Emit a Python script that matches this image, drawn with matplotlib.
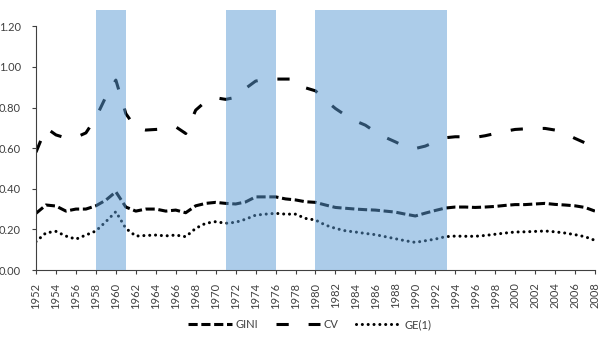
# inequality indices 1952-2008 with shaded periods
import numpy as np
import matplotlib.pyplot as plt

plt.rcParams['font.family'] = ['Lato', 'DejaVu Sans']

years = np.arange(1952, 2009)

gini = [0.279, 0.32, 0.315, 0.29, 0.30, 0.30, 0.316, 0.344, 0.385, 0.31,
        0.29, 0.30, 0.30, 0.29, 0.295, 0.282, 0.316, 0.328, 0.333, 0.328,
        0.325, 0.335, 0.36, 0.36, 0.36, 0.35, 0.345, 0.336, 0.333, 0.32,
        0.308, 0.304, 0.30, 0.297, 0.295, 0.29, 0.285, 0.275, 0.266, 0.28,
        0.293, 0.305, 0.31, 0.31, 0.308, 0.31, 0.313, 0.318, 0.322, 0.322,
        0.325, 0.328, 0.323, 0.32, 0.316, 0.308, 0.29]

cv = [0.58, 0.70, 0.665, 0.65, 0.653, 0.675, 0.75, 0.853, 0.935, 0.77,
      0.70, 0.689, 0.692, 0.695, 0.705, 0.672, 0.787, 0.83, 0.848, 0.84,
      0.85, 0.894, 0.93, 0.94, 0.94, 0.94, 0.94, 0.897, 0.882, 0.836,
      0.795, 0.762, 0.734, 0.713, 0.68, 0.653, 0.631, 0.607, 0.598, 0.61,
      0.631, 0.651, 0.656, 0.656, 0.653, 0.661, 0.672, 0.683, 0.692, 0.695,
      0.697, 0.697, 0.689, 0.672, 0.648, 0.626, 0.598]

ge1 = [0.14, 0.183, 0.19, 0.167, 0.152, 0.172, 0.192, 0.238, 0.287, 0.205,
       0.167, 0.17, 0.172, 0.168, 0.172, 0.164, 0.205, 0.23, 0.238, 0.23,
       0.235, 0.25, 0.27, 0.275, 0.279, 0.275, 0.275, 0.254, 0.246, 0.221,
       0.205, 0.193, 0.187, 0.18, 0.174, 0.164, 0.154, 0.144, 0.136, 0.144,
       0.152, 0.164, 0.167, 0.166, 0.166, 0.17, 0.176, 0.182, 0.187, 0.188,
       0.19, 0.192, 0.188, 0.182, 0.174, 0.164, 0.146]

periods = [(1958, 1961), (1971, 1976), (1980, 1993.2)]

fig = plt.figure(figsize=(6.01, 3.37), dpi=100)
ax = fig.add_axes([0.0599, 0.1988, 0.930, 0.7715])

ax.plot(years, gini, color='black', lw=2.2, dashes=(3, 1.2), label='GINI')
ax.plot(years, cv, color='black', lw=2.2, dashes=(4, 6.5), label='CV')
ax.plot(years, ge1, color='black', lw=2.2, dashes=(0.01, 1.9),
        dash_capstyle='round', label='GE(1)')

for a, b in periods:
    ax.axvspan(a, b, color='#5B9BD5', alpha=0.5, lw=0, zorder=5)

ax.set_xlim(1952, 2008)
ax.set_ylim(0, 1.28)
ax.set_yticks(np.arange(0, 1.21, 0.2))
ax.set_yticklabels(['%.2f' % v for v in np.arange(0, 1.21, 0.2)])
ax.set_xticks(np.arange(1952, 2009, 2))
ax.tick_params(axis='x', rotation=90, length=3, pad=6, colors='#404040', labelsize=8)
ax.tick_params(axis='y', length=3, pad=8, colors='#404040', labelsize=8)

for s in ['top', 'right']:
    ax.spines[s].set_visible(False)
ax.spines['left'].set_bounds(0, 1.2)
ax.spines['left'].set_color('#404040')
ax.spines['bottom'].set_color('#404040')

fig.legend(loc='center', bbox_to_anchor=(0.515, 0.036), ncol=3, frameon=False,
           fontsize=8, handlelength=4, columnspacing=1.6, handletextpad=0.3,
           labelcolor='#404040')

fig.savefig('out.png', dpi=100)
